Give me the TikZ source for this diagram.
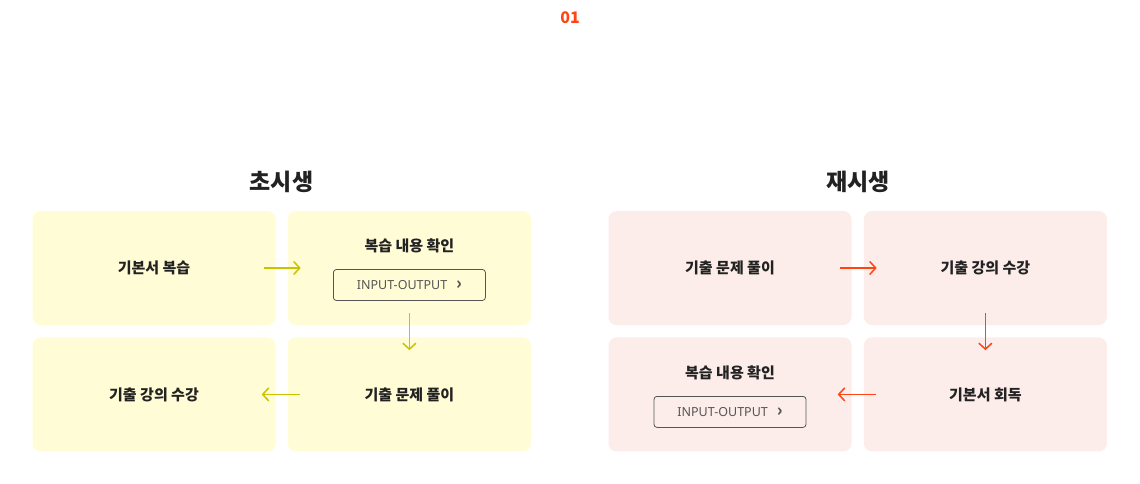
\documentclass[tikz,border=0pt]{standalone}
\usepackage{fontspec}
\setmainfont{Noto Sans CJK KR}
\newfontfamily\btnfont{Noto Sans}
\usepackage{xcolor}
\usetikzlibrary{positioning, arrows.meta}

\definecolor{boxyellow}{HTML}{FFFCD6}
\definecolor{boxpink}{HTML}{FCEDEA}
\definecolor{arryellow}{HTML}{C9C300}
\definecolor{arrorange}{HTML}{FF4514}
\definecolor{textdark}{HTML}{222222}
\definecolor{btngray}{HTML}{555555}

\newcommand{\chev}{{\rmfamily\fontsize{17}{17}\selectfont\bfseries ›}}

\begin{document}
\begin{tikzpicture}[x=1pt, y=-1pt, node distance={12pt},
    card/.style = {rounded corners=8pt, minimum width=243pt, minimum height=114pt, inner sep=0pt,
        text=textdark, font=\fontsize{15}{18}\selectfont\bfseries},
    ycard/.style = {card, fill=boxyellow},
    pcard/.style = {card, fill=boxpink},
    cardtext/.style = {text=textdark, inner sep=0pt, font=\fontsize{15}{18}\selectfont\bfseries},
    headtext/.style = {text=textdark, inner sep=0pt, font=\fontsize{23}{26}\selectfont\bfseries},
    btn/.style = {draw=btngray, line width=0.8pt, rounded corners=3pt, minimum width=152pt, minimum height=31pt,
        inner sep=0pt, text=btngray, font=\btnfont\fontsize{12.5}{14}\selectfont},
    flow/.style = {line width=1.5pt, -{Straight Barb[length=6pt, width=13pt, line width=1.5pt]}}]
    \useasboundingbox (0,0) rectangle (1140,483);

    % Number
    \node[text=arrorange, inner sep=0pt, font=\fontsize{16}{18}\selectfont\bfseries] (num) at (570,18) {01};

    % Left: first-timers
    \node[headtext] (head1) at (281.5,182) {초시생};
    \node[ycard] (a1) at (154,268) {기본서 복습};
    \node[ycard] (a2) [right=of a1] {};
    \node[cardtext] (a2t) at ([yshift=22pt]a2.center) {복습 내용 확인};
    \node[btn] (a2b) at ([yshift=-17pt]a2.center) {INPUT-OUTPUT\hspace{9pt}\chev};
    \node[ycard] (a3) [below=of a2] {기출 문제 풀이};
    \node[ycard] (a4) [below=of a1] {기출 강의 수강};

    \draw[flow, arryellow] ([xshift=-12pt]a1.east) -- ([xshift=13pt]a2.west);
    \draw[flow, arryellow] ([yshift=12pt]a2.south) -- ([yshift=-13pt]a3.north);
    \draw[flow, arryellow] ([xshift=12pt]a3.west) -- ([xshift=-14pt]a4.east);

    % Right: repeaters
    \node[headtext] (head2) at (858,182) {재시생};
    \node[pcard] (b1) at (730,268) {기출 문제 풀이};
    \node[pcard] (b2) [right=of b1] {기출 강의 수강};
    \node[pcard] (b3) [below=of b2] {기본서 회독};
    \node[pcard] (b4) [below=of b1] {};
    \node[cardtext] (b4t) at ([yshift=22pt]b4.center) {복습 내용 확인};
    \node[btn] (b4b) at ([yshift=-17.5pt]b4.center) {INPUT-OUTPUT\hspace{9pt}\chev};

    \draw[flow, arrorange] ([xshift=-12pt]b1.east) -- ([xshift=13pt]b2.west);
    \draw[flow, arrorange] ([yshift=12pt]b2.south) -- ([yshift=-13pt]b3.north);
    \draw[flow, arrorange] ([xshift=12pt]b3.west) -- ([xshift=-14pt]b4.east);
\end{tikzpicture}
\end{document}
